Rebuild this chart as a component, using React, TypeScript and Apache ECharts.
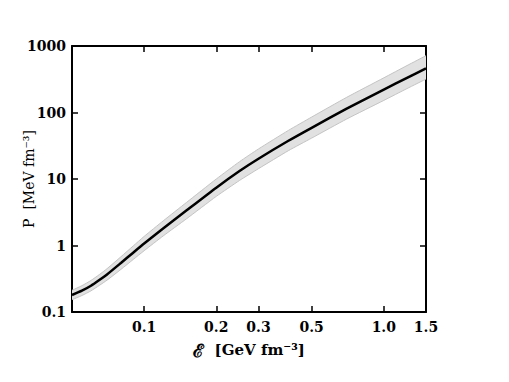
import React, { useEffect, useRef } from "react";
import * as echarts from "echarts";

const energy = [0.05, 0.055, 0.06, 0.065, 0.07, 0.08, 0.09, 0.1, 0.12, 0.15, 0.2, 0.25, 0.3, 0.4, 0.5, 0.7, 1.0, 1.25, 1.5];
const pressure = [0.18, 0.209, 0.248, 0.302, 0.367, 0.546, 0.78, 1.07, 1.8, 3.35, 7.41, 13.2, 20.2, 37.6, 58.9, 114, 221, 332, 461];
const upperBand = [0.212, 0.249, 0.298, 0.365, 0.448, 0.677, 0.983, 1.37, 2.34, 4.42, 10.0, 18.2, 28.3, 53.8, 85.4, 169, 332, 508, 715];
const lowerBand = [0.153, 0.177, 0.208, 0.251, 0.301, 0.437, 0.616, 0.835, 1.39, 2.51, 5.48, 9.5, 14.3, 26.7, 41.2, 79.8, 152, 229, 318];

const xTickValues = [0.1, 0.2, 0.3, 0.5, 1.0, 1.5];
const xTickLabels = ["0.1", "0.2", "0.3", "0.5", "1.0", "1.5"];
const yTickValues = [0.1, 1, 10, 100, 1000];
const yTickLabels = ["0.1", "1", "10", "100", "1000"];

const X_MIN = 0.05;
const X_MAX = 1.5;
const Y_MIN = 0.1;
const Y_MAX = 1000;

const lg = (v: number) => Math.log10(v);

export default function App() {
  const ref = useRef<HTMLDivElement>(null);
  useEffect(() => {
    if (!ref.current) return;
    const chart = echarts.init(ref.current, null, { renderer: "svg" });
    const xTicksLog = xTickValues.map(lg);
    const xLabelFor = (v: number) => {
      let best = 0;
      let bd = Infinity;
      xTicksLog.forEach((t, i) => {
        const d = Math.abs(t - v);
        if (d < bd) { bd = d; best = i; }
      });
      return xTickLabels[best];
    };
    const yLabelFor = (v: number) => {
      let best = 0;
      let bd = Infinity;
      yTickValues.forEach((t, i) => {
        const d = Math.abs(Math.log10(t) - Math.log10(v));
        if (d < bd) { bd = d; best = i; }
      });
      return yTickLabels[best];
    };
    const tickFont = { fontFamily: "DejaVu Serif", fontWeight: "bold" as const, fontSize: 14, color: "#000" };
    const axisLine = { show: true, onZero: false, lineStyle: { color: "#000", width: 2 } };
    const tick = { show: true, inside: true, length: 6, lineStyle: { color: "#000", width: 1.5 } };

    const bandData = energy.map((e, i) => [lg(e), lowerBand[i], upperBand[i]]);

    chart.setOption({
      animation: false,
      grid: { left: 72, right: 83, top: 46, bottom: 70, containLabel: false, outerBoundsMode: "none" },
      xAxis: [
        {
          type: "value",
          min: lg(X_MIN),
          max: lg(X_MAX),
          position: "bottom",
          axisLine,
          axisTick: { ...tick, customValues: xTicksLog },
          axisLabel: { ...tickFont, customValues: xTicksLog, formatter: (v: number) => xLabelFor(v), margin: 8 },
          splitLine: { show: false },
          name: "{e|ℰ}  [GeV fm⁻³]",
          nameLocation: "middle",
          nameGap: 29,
          nameMoveOverlap: false,
          nameTextStyle: {
            fontFamily: "DejaVu Serif",
            fontWeight: "bold",
            fontSize: 15,
            color: "#000",
            rich: { e: { fontFamily: "DejaVu Serif", fontSize: 18, fontWeight: "bold", color: "#000" } },
          },
        },
        {
          type: "value",
          min: lg(X_MIN),
          max: lg(X_MAX),
          position: "top",
          axisLine,
          axisTick: { ...tick, customValues: xTicksLog },
          axisLabel: { show: false },
          splitLine: { show: false },
        },
      ],
      yAxis: [
        {
          type: "log",
          logBase: 10,
          min: Y_MIN,
          max: Y_MAX,
          position: "left",
          axisLine,
          axisTick: tick,
          axisLabel: { ...tickFont, formatter: (v: number) => yLabelFor(v), margin: 6 },
          splitLine: { show: false },
          minorTick: { show: false },
          name: "P  [MeV fm⁻³]",
          nameLocation: "middle",
          nameGap: 36,
          nameMoveOverlap: false,
          nameTextStyle: { fontFamily: "DejaVu Serif", fontSize: 14, color: "#000" },
        },
        {
          type: "log",
          logBase: 10,
          min: Y_MIN,
          max: Y_MAX,
          position: "right",
          axisLine,
          axisTick: tick,
          axisLabel: { show: false },
          splitLine: { show: false },
        },
      ],
      series: [
        {
          type: "custom",
          xAxisIndex: 0,
          yAxisIndex: 0,
          data: bandData,
          clip: true,
          silent: true,
          z: 1,
          renderItem: (params: any, api: any) => {
            if (params.dataIndex !== 0) return null;
            const up = bandData.map((d) => api.coord([d[0], d[2]]));
            const lo = bandData.map((d) => api.coord([d[0], d[1]]));
            const poly = up.concat(lo.slice().reverse());
            return {
              type: "group",
              children: [
                { type: "polygon", shape: { points: poly }, style: { fill: "#e1e1e1", stroke: "none" } },
                { type: "polyline", shape: { points: up, smooth: 0.2 }, style: { stroke: "#c4c4c4", lineWidth: 1, fill: "none" } },
                { type: "polyline", shape: { points: lo, smooth: 0.2 }, style: { stroke: "#c4c4c4", lineWidth: 1, fill: "none" } },
              ],
            };
          },
        },
        {
          type: "line",
          xAxisIndex: 0,
          yAxisIndex: 0,
          data: energy.map((e, i) => [lg(e), pressure[i]]),
          showSymbol: false,
          smooth: 0.2,
          lineStyle: { color: "#000", width: 2.5 },
          z: 3,
        },
      ],
    });
    return () => chart.dispose();
  }, []);
  return <div ref={ref} style={{ position: "absolute", left: 0, top: 0, width: 509, height: 382 }} />;
}
